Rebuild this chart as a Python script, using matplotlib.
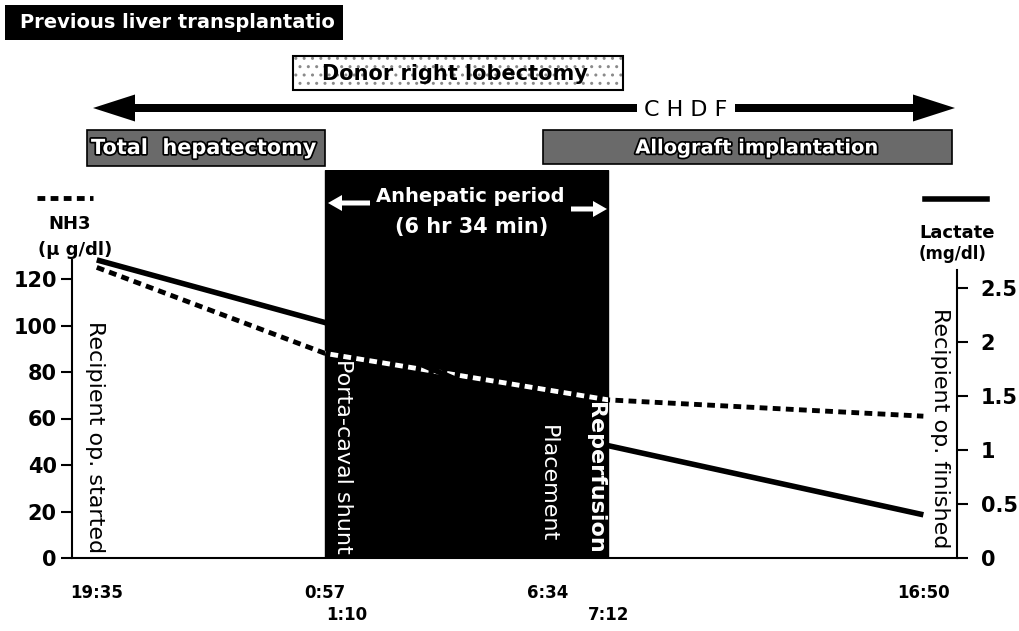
import matplotlib
matplotlib.use('Agg')
import matplotlib.pyplot as plt
import matplotlib.patheffects as pe
from matplotlib.patches import Rectangle, FancyArrow
from matplotlib.lines import Line2D

plt.rcParams['font.family'] = ['DejaVu Sans']

# schematic event positions along the operation (not to time scale)
event_pos = [2.8, 28.6, 31.0, 53.8, 60.6, 96.2]
event_time = ['19:35', '0:57', '1:10', '6:34', '7:12', '16:50']
event_row = [0, 0, 1, 0, 1, 0]

# measured points: start, clamp (0:57), reperfusion (7:12), end
meas_pos = [2.8, 28.6, 60.6, 96.2]
nh3 = [125, 88, 68, 61]          # ug/dl, left axis
lactate = [2.76, 2.18, 1.04, 0.40]  # mg/dl, right axis

nh3_ticks = [0, 20, 40, 60, 80, 100, 120]
lac_ticks = [0, 0.5, 1, 1.5, 2, 2.5]
lac_ticklabels = ['0', '0.5', '1', '1.5', '2', '2.5']

anhepatic = (28.6, 60.6)

W, H = 1019, 631
fig = plt.figure(figsize=(W / 100, H / 100), dpi=100)

# main axes: spine from x=72 to 957 px, bottom at 558 px, top at 170 px
ax = fig.add_axes([72 / W, (H - 558) / H, (957 - 72) / W, (558 - 170) / H])
ax.set_xlim(0, 100)
ax.set_ylim(0, 388 / 2.325)
ax.patch.set_visible(False)

ax2 = ax.twinx()
ax2.set_ylim(0, 388 / 108)
ax2.patch.set_visible(False)

for a in (ax, ax2):
    a.spines['top'].set_visible(False)
ax.spines['right'].set_visible(False)
ax2.spines['left'].set_visible(False)
ax2.spines['bottom'].set_visible(False)
ax.spines['left'].set_bounds(0, 128)
ax2.spines['right'].set_bounds(0, 2.67)
for s in ('left', 'bottom'):
    ax.spines[s].set_linewidth(1.5)
ax2.spines['right'].set_linewidth(1.5)

ax.set_xticks([])
ax.set_yticks(nh3_ticks)
ax.tick_params(axis='y', direction='out', length=8, width=1.5, pad=3,
               labelsize=15)
for t in ax.get_yticklabels():
    t.set_fontweight('bold')
ax2.set_yticks(lac_ticks)
ax2.set_yticklabels(lac_ticklabels)
ax2.tick_params(axis='y', direction='out', length=8, width=1.5, pad=9,
                labelsize=15)
for t in ax2.get_yticklabels():
    t.set_fontweight('bold')

# anhepatic period block
box = ax.axvspan(anhepatic[0], anhepatic[1], color='black', zorder=1)

# data lines
ax2.plot(meas_pos, lactate, color='black', lw=4, solid_capstyle='butt',
         zorder=3)
ax.plot(meas_pos, nh3, color='black', lw=3.5, dashes=(1.6, 1.1), zorder=3)
white = ax.plot(meas_pos, nh3, color='white', lw=3.5, dashes=(1.6, 1.1),
                zorder=4)[0]
white.set_clip_path(box)

# event time labels
for p, lab, row in zip(event_pos, event_time, event_row):
    ax.annotate(lab, xy=(p, 0), xycoords=('data', 'axes fraction'),
                xytext=(0, -35 - 22 * row), textcoords='offset pixels',
                ha='center', va='center', fontsize=12, fontweight='bold')

# vertical event annotations (on ax2 so they sit above both lines)
tr = ax2.get_xaxis_transform()
vt = dict(rotation=270, fontsize=16, va='center', ha='right',
          rotation_mode='anchor', transform=tr, zorder=6)
ax2.text(event_pos[0] - 0.2, 0.012, 'Recipient op. started', color='black',
         **vt)
ax2.text(event_pos[2] - 0.4, 0.012, 'Porta-caval shunt', color='white', **vt)
ax2.text(event_pos[3] - 0.0, 0.04, 'Placement', color='white', **vt)
ax2.text(event_pos[4] - 1.5, 0.012, 'Reperfusion', color='white',
         fontweight='bold', **vt)
ax2.text(event_pos[5] + 1.9, 0.025, 'Recipient op. finished', color='black',
         **vt)

# overlay in pixel coordinates for the phase bars and labels
ov = fig.add_axes([0, 0, 1, 1])
ov.set_xlim(0, W)
ov.set_ylim(H, 0)
ov.axis('off')
ov.patch.set_alpha(0)

# title box
ov.add_patch(Rectangle((5, 5), 338, 35, facecolor='black', edgecolor='none'))
ov.text(20, 23, 'Previous liver transplantatio', color='white',
        fontsize=14, fontweight='bold', va='center', ha='left')

# donor lobectomy (dotted)
ov.add_patch(Rectangle((293, 56), 330, 34, facecolor='white',
                       edgecolor='#8a8a8a', hatch='..', lw=0))
ov.add_patch(Rectangle((293, 56), 330, 34, facecolor='none',
                       edgecolor='black', lw=1.5))
ov.text(455, 74, 'Donor right lobectomy', color='black', fontsize=15,
        fontweight='bold', va='center', ha='center')

# CHDF double arrow
ov.add_patch(FancyArrow(637, 108, -544, 0, width=8, head_width=27,
                        head_length=42, length_includes_head=True,
                        color='black', lw=0))
ov.add_patch(FancyArrow(735, 108, 220, 0, width=8, head_width=27,
                        head_length=42, length_includes_head=True,
                        color='black', lw=0))
ov.text(686, 110, 'C H D F', fontsize=16, va='center', ha='center')

# phase bars
stroke = [pe.withStroke(linewidth=2.5, foreground='black')]
ov.add_patch(Rectangle((87, 130), 238, 36, facecolor='#6a6a6a',
                       edgecolor='black', lw=1.2))
ov.text(204, 148, 'Total  hepatectomy', color='white', fontsize=15,
        fontweight='bold', va='center', ha='center', path_effects=stroke)
ov.add_patch(Rectangle((543, 130), 409, 34, facecolor='#6a6a6a',
                       edgecolor='black', lw=1.2))
ov.text(757, 148, 'Allograft implantation', color='white', fontsize=14,
        fontweight='bold', va='center', ha='center', path_effects=stroke)

# anhepatic period label and arrows
ov.text(470, 197, 'Anhepatic period', color='white', fontsize=14,
        fontweight='bold', va='center', ha='center')
ov.text(472, 227, '(6 hr 34 min)', color='white', fontsize=15,
        fontweight='bold', va='center', ha='center')
ov.add_patch(FancyArrow(370, 203, -42, 0, width=5, head_width=16,
                        head_length=14, length_includes_head=True,
                        color='white', lw=0))
ov.add_patch(FancyArrow(571, 209, 36, 0, width=5, head_width=16,
                        head_length=14, length_includes_head=True,
                        color='white', lw=0))

# legend keys
ov.add_line(Line2D([37, 93], [198, 198], color='black', lw=3.5,
                   dashes=(1.6, 1.1)))
ov.text(70, 224, 'NH3', fontsize=13, fontweight='bold', va='center',
        ha='center')
ov.text(75, 250, '(\u03bc g/dl)', fontsize=13, fontweight='bold',
        va='center', ha='center')
ov.add_line(Line2D([925, 987], [199, 199], color='black', lw=4))
ov.text(957, 233, 'Lactate', fontsize=13, fontweight='bold', va='center',
        ha='center')
ov.text(953, 254, '(mg/dl)', fontsize=12, fontweight='bold', va='center',
        ha='center')

fig.savefig('out.png', dpi=100)
